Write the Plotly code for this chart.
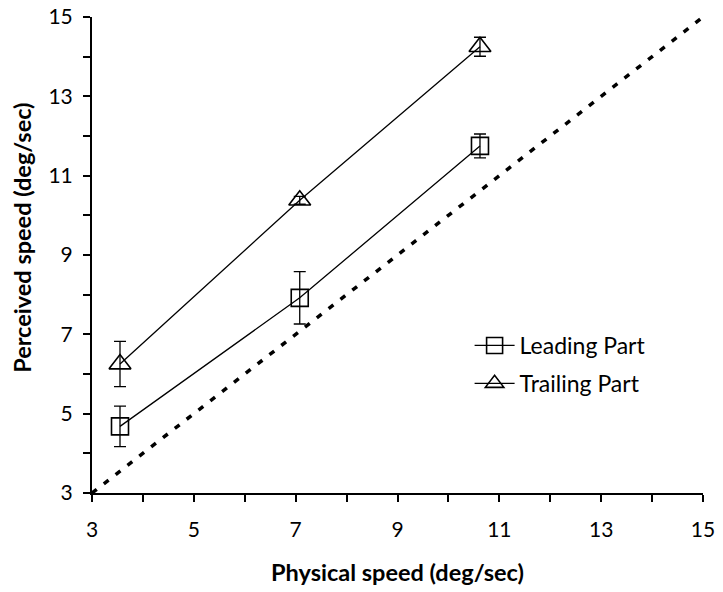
import plotly.graph_objects as go

# Data
physical_speed = [3.55, 7.08, 10.62]
leading = [4.68, 7.92, 11.75]
leading_err = [0.51, 0.66, 0.30]
trailing = [6.25, 10.38, 14.25]
trailing_err = [0.57, 0.10, 0.24]
ref_x = [3, 15]
ref_y = [3, 15]
tick_vals = [3, 5, 7, 9, 11, 13, 15]
x_title = "Physical speed (deg/sec)"
y_title = "Perceived speed (deg/sec)"

font_family = "Lato, 'Open Sans', sans-serif"

fig = go.Figure()

fig.add_trace(go.Scatter(
    x=ref_x, y=ref_y, mode="lines",
    line=dict(color="black", width=3.5, dash="6px,9px"),
    showlegend=False, hoverinfo="skip",
))

fig.add_trace(go.Scatter(
    x=physical_speed, y=leading, mode="lines+markers", name="Leading Part",
    legendgroup="a",
    line=dict(color="black", width=1.3),
    marker=dict(symbol="square-open", size=17, color="black", line=dict(width=1.6)),
    error_y=dict(type="data", array=leading_err, visible=True, color="black", thickness=1.3, width=6),
))

fig.add_trace(go.Scatter(
    x=physical_speed, y=trailing, mode="lines+markers", name="Trailing Part",
    legendgroup="b",
    line=dict(color="black", width=1.3),
    marker=dict(symbol="triangle-up-open", size=19, color="black", line=dict(width=1.6)),
    error_y=dict(type="data", array=trailing_err, visible=True, color="black", thickness=1.3, width=6),
))

axis_common = dict(
    showgrid=False, zeroline=False, showline=True, linecolor="black", linewidth=2,
    ticks="outside", ticklen=7, tickwidth=1.5, tickcolor="black",
    tickfont=dict(size=21, color="black", family=font_family),
    tickvals=tick_vals, range=[3, 15], automargin=False, ticklabeloverflow="allow",
    minor=dict(ticks="outside", dtick=1, ticklen=7, tickwidth=1.5, tickcolor="black"),
)

fig.update_layout(
    width=723, height=592,
    margin=dict(l=92, r=20, t=17, b=99),
    plot_bgcolor="white", paper_bgcolor="white",
    font=dict(family=font_family, color="black"),
    xaxis=dict(**axis_common, ticklabelstandoff=10,
               title=dict(text="<b>" + x_title + "</b>", font=dict(size=23.5), standoff=24)),
    yaxis=dict(**axis_common, ticklabelstandoff=6),
    legend=dict(x=0.618, y=0.355, xanchor="left", yanchor="top",
                font=dict(size=23, family=font_family), bgcolor="rgba(0,0,0,0)",
                itemwidth=40, tracegroupgap=5, traceorder="grouped"),
)

fig.add_annotation(
    text="<b>" + y_title + "</b>", textangle=-90,
    xref="paper", yref="paper", x=-0.1146, y=0.536,
    xanchor="center", yanchor="middle", showarrow=False,
    font=dict(size=23.5, family=font_family, color="black"),
)

fig.write_html("out.html", config={"displayModeBar": False},
               post_script="document.body.style.margin='0';")
